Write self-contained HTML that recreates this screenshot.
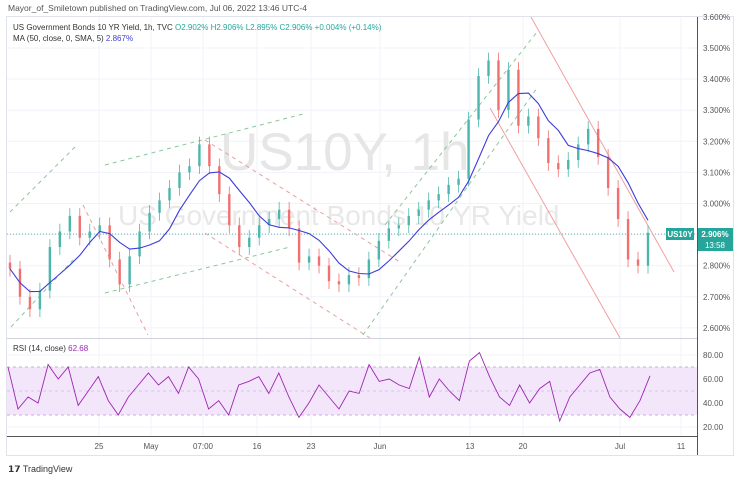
<!DOCTYPE html>
<html><head><meta charset="utf-8"><style>
body{margin:0;background:#fff;font-family:"Liberation Sans",sans-serif}
svg{display:block}
</style></head><body>
<svg id="c" width="739" height="480" viewBox="0 0 739 480" font-family="Liberation Sans, sans-serif">
<rect width="739" height="480" fill="#fff"/>
<text x="8" y="11" font-size="8.5" fill="#555">Mayor_of_Smiletown published on TradingView.com, Jul 06, 2022 13:46 UTC-4</text>
<rect x="6.5" y="16.5" width="727" height="439" fill="none" stroke="#e0e3eb"/>
<g id="grid"></g>
<text x="220" y="170" font-size="53" fill="#e6e6e6">US10Y, 1h</text>
<text x="118" y="225" font-size="28" fill="#e8e8e8">US Government Bonds 10 YR Yield</text>
<line x1="7" y1="234" x2="697" y2="234" stroke="#26a69a" stroke-dasharray="1,2" stroke-width="0.8"/>
<g id="draw"></g>
<g id="candles"></g>
<path id="ma" fill="none" stroke="#3c3cdc" stroke-width="1.1"/>
<rect x="7" y="367" width="690" height="48" fill="#f3e6fb"/>
<line x1="7" y1="367" x2="697" y2="367" stroke="#c5b0e0" stroke-dasharray="3,3"/>
<line x1="7" y1="391" x2="697" y2="391" stroke="#d5c5ea" stroke-dasharray="3,3"/>
<line x1="7" y1="415" x2="697" y2="415" stroke="#c5b0e0" stroke-dasharray="3,3"/>
<path id="rsi" fill="none" stroke="#9c27b0" stroke-width="0.9"/>
<line x1="7" y1="338.5" x2="697" y2="338.5" stroke="#d1d4dc"/>
<line x1="7" y1="436.5" x2="697" y2="436.5" stroke="#555"/>
<line x1="697.5" y1="17" x2="697.5" y2="455" stroke="#555"/>
<g id="axes" font-size="8" fill="#555"></g>
<text x="13" y="30" font-size="8" fill="#333">US Government Bonds 10 YR Yield, 1h, TVC <tspan fill="#26a69a">O2.902%  H2.906%  L2.895%  C2.906%  +0.004% (+0.14%)</tspan></text>
<text x="13" y="41" font-size="8" fill="#333">MA (50, close, 0, SMA, 5) <tspan fill="#3c3cdc">2.867%</tspan></text>
<text x="13" y="351" font-size="8" fill="#333">RSI (14, close) <tspan fill="#9c27b0">62.68</tspan></text>
<rect x="666" y="228" width="28" height="12" fill="#26a69a"/>
<text x="680" y="237" font-size="8" fill="#fff" text-anchor="middle" font-weight="bold">US10Y</text>
<rect x="698" y="228" width="35" height="23" fill="#26a69a"/>
<text x="715" y="237" font-size="8" fill="#fff" text-anchor="middle" font-weight="bold">2.906%</text>
<text x="715" y="248" font-size="8" fill="#fff" text-anchor="middle">13:58</text>
<text x="8" y="472" font-size="9" fill="#333"><tspan font-weight="bold">𝟭𝟳</tspan> TradingView</text>
</svg>
<script>
const closes=[2.79,2.70,2.66,2.72,2.86,2.91,2.96,2.89,2.91,2.93,2.82,2.74,2.83,2.91,2.97,3.01,3.05,3.10,3.12,3.19,3.12,3.03,2.93,2.86,2.89,2.93,2.95,2.98,2.92,2.81,2.83,2.80,2.75,2.74,2.77,2.76,2.82,2.88,2.92,2.93,2.96,2.98,3.01,3.03,3.06,3.08,3.27,3.41,3.46,3.30,3.43,3.25,3.28,3.21,3.13,3.11,3.14,3.19,3.24,3.15,3.05,2.95,2.82,2.80,2.906];
const rsiVals=[70,35,45,40,72,60,70,38,50,62,42,30,45,55,65,55,62,48,70,60,35,42,30,55,58,62,48,65,45,28,40,55,45,35,50,48,72,58,60,55,52,78,45,60,50,42,75,82,62,45,38,55,40,52,58,25,45,55,65,68,45,35,28,42,62.68];
const priceTicks=[3.6,3.5,3.4,3.3,3.2,3.1,3.0,2.9,2.8,2.7,2.6];
const rsiTicks=[80,60,40,20];
const timeLabels=["25","May","07:00","16","23","Jun","13","20","Jul","11"];
const timeX=[99,151,203,257,311,380,470,523,620,681];
const NS="http://www.w3.org/2000/svg";
const py=p=>48+(3.5-p)*311;
const ry=v=>355+(80-v)*1.2;
const xStart=10,xEnd=648;
const cx=i=>xStart+i*(xEnd-xStart)/(closes.length-1);
const rx=i=>8+i*(650-8)/(rsiVals.length-1);
function mk(tag,parent,attrs){const e=document.createElementNS(NS,tag);for(const k in attrs)e.setAttribute(k,attrs[k]);document.getElementById(parent).appendChild(e);return e;}
priceTicks.forEach(p=>{const y=py(p);
 if(y>20&&y<336){const l=mk('line','grid',{x1:7,x2:697,y1:y,y2:y,stroke:'#f0f3fa'});
 
 }
 const t=mk('text','axes',{x:703,y:y+3});t.textContent=p.toFixed(3)+'%';
 
 });
rsiTicks.forEach(v=>{const y=ry(v);
 const l=mk('line','grid',{x1:7,x2:697,y1:y,y2:y,stroke:'#f0f3fa'});
 
 
 const t=mk('text','axes',{x:703,y:y+3});t.textContent=v.toFixed(2);
 
 });
timeLabels.forEach((s,i)=>{const x=timeX[i];
 const l=mk('line','grid',{x1:x,x2:x,y1:17,y2:436,stroke:'#f0f3fa'});
 
 
 const t=mk('text','axes',{x:x,y:449,'text-anchor':'middle'});t.textContent=s;
 
 });
const lines=[
 [10,212,75,147,'#8bc79b',1],[105,165,303,114,'#8bc79b',1],[11,327,73,260,'#8bc79b',1],[105,293,290,247,'#8bc79b',1],
 [385,225,537,32,'#8bc79b',1],[363,335,537,88,'#8bc79b',1],
 [83,205,148,335,'#e8a0a0',1],[205,140,400,262,'#e8a0a0',1],[205,233,370,338,'#e8a0a0',1],
 [531,17,674,272,'#f0a0a0',0],[490,108,620,338,'#f0a0a0',0]];
lines.forEach(a=>{const l=mk('line','draw',{x1:a[0],y1:a[1],x2:a[2],y2:a[3],stroke:a[4],'stroke-width':1,'stroke-dasharray':a[5]?'4,4':'none'});
 
 });
closes.forEach((c,i)=>{const o=i?closes[i-1]:c+0.02;const up=c>=o;const col=up?'#4db6ac':'#f07070';
 const x=cx(i);const hi=Math.max(o,c)+0.025,lo=Math.min(o,c)-0.025;
 const w=mk('line','candles',{x1:x,x2:x,y1:py(hi),y2:py(lo),stroke:col,'stroke-width':0.8});
 
 
 const b=mk('rect','candles',{x:x-1.2,width:2.4,y:py(Math.max(o,c)),height:Math.max(1,Math.abs(py(o)-py(c))),fill:col});
 
 });
let d='';closes.forEach((c,i)=>{const s=closes.slice(Math.max(0,i-5),i+1);const m=s.reduce((a,b)=>a+b,0)/s.length;d+=(i?'L':'M')+cx(i).toFixed(1)+' '+py(m).toFixed(1);});
document.getElementById('ma').setAttribute('d',d);
let r='';rsiVals.forEach((v,i)=>{r+=(i?'L':'M')+rx(i).toFixed(1)+' '+ry(v).toFixed(1);});
document.getElementById('rsi').setAttribute('d',r);
</script>
</body></html>
